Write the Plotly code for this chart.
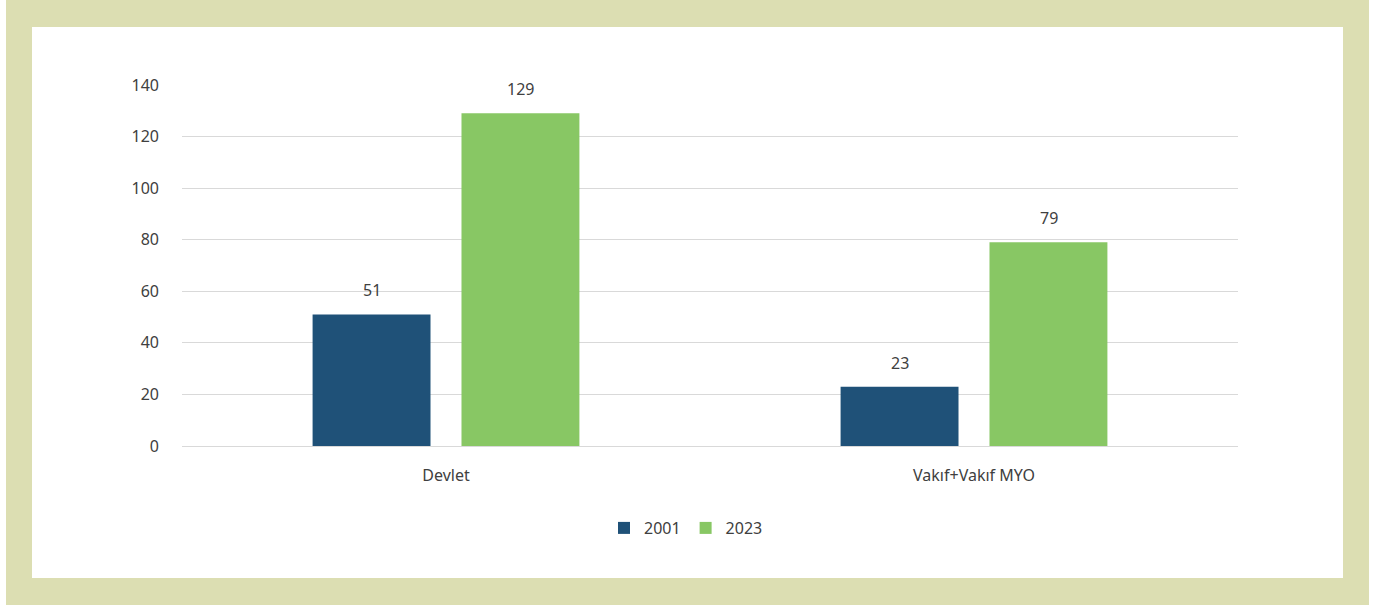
import plotly.graph_objects as go

# --- data ---
categories = ["Devlet", "Vakıf+Vakıf MYO"]
years = ["2001", "2023"]
values_2001 = [51, 23]
values_2023 = [129, 79]

colors = {"2001": "#1F5178", "2023": "#88C764"}
W, H = 1378, 607
left, right, top, bottom = 182, 140, 85, 161
font = "Noto Sans, Open Sans, sans-serif"

fig = go.Figure()
for year, vals in zip(years, [values_2001, values_2023]):
    fig.add_trace(go.Bar(
        x=categories, y=vals, name=year,
        marker=dict(color=colors[year], line=dict(width=0)),
        offsetgroup=year,
    ))

# value labels above bars
annotations = []
for k, (year, vals) in enumerate(zip(years, [values_2001, values_2023])):
    for cat, v in zip(categories, vals):
        annotations.append(dict(
            x=cat, y=v, xref="x", yref="y", text=str(v), showarrow=False,
            xshift=(-1 if k == 0 else 1) * 74.5, yshift=24, yanchor="middle",
            font=dict(size=16, color="#404040", family=font),
        ))

# paper -> pixel helpers for the framed background
pw, ph = W - left - right, H - top - bottom
def px(x):
    return (x - left) / pw
def py(y):
    return (H - bottom - y) / ph

shapes = [
    dict(type="rect", xref="paper", yref="paper", layer="below",
         x0=px(6), x1=px(1369), y0=py(605), y1=py(0),
         fillcolor="#DCDEB2", line=dict(width=0)),
    dict(type="rect", xref="paper", yref="paper", layer="below",
         x0=px(32), x1=px(1343), y0=py(578), y1=py(27),
         fillcolor="white", line=dict(width=0)),
]

fig.update_layout(
    width=W, height=H,
    margin=dict(l=left, r=right, t=top, b=bottom, autoexpand=False),
    paper_bgcolor="white", plot_bgcolor="rgba(0,0,0,0)",
    barmode="group", bargap=0.436, bargroupgap=0.208,
    font=dict(family=font, size=16, color="#404040"),
    shapes=shapes, annotations=annotations,
    legend=dict(orientation="h", x=px(686), xanchor="center",
                y=py(528), yanchor="middle",
                font=dict(size=16, color="#404040"),
                itemwidth=30, tracegroupgap=0),
    xaxis=dict(showline=False, ticks="", tickfont=dict(size=16),
               ticklabelstandoff=18),
    yaxis=dict(range=[0, 140], dtick=20, showgrid=True,
               gridcolor="#D9D9D9", gridwidth=1,
               zeroline=True, zerolinecolor="#D9D9D9", zerolinewidth=1,
               ticks="", ticklabelstandoff=22, tickfont=dict(size=16)),
)

fig.write_html("out.html", config={"displayModeBar": False},
               post_script="document.body.style.margin='0';")
